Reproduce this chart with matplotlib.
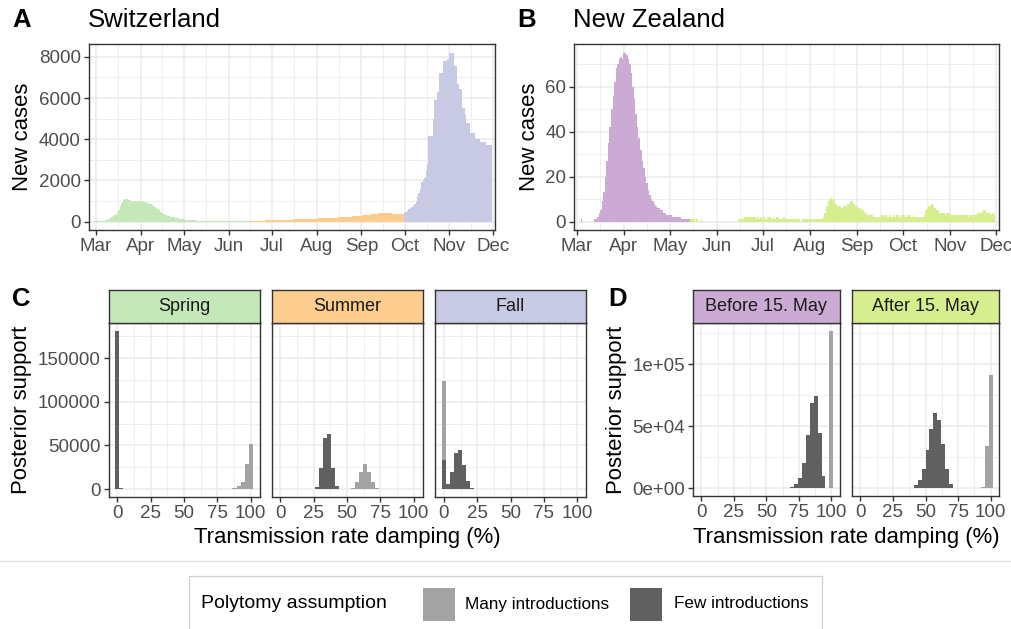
import numpy as np
import pandas as pd
import matplotlib
matplotlib.use("Agg")
import matplotlib.pyplot as plt
import matplotlib.dates as mdates
from matplotlib.patches import Rectangle
from matplotlib.lines import Line2D
from matplotlib.ticker import FixedLocator, FuncFormatter

plt.rcParams['font.family'] = ['Liberation Sans', 'DejaVu Sans']

# ---------------- DATA ----------------
ch_start = "2020-03-01"
ch_mar = [5,8,12,18,25, 35,50,70,100,130, 170,220,270,300,330, 400,550,750,900,1030,
          1100,1110,1090,1060,1030, 1010,990,980,970,980, 1000]
ch_apr = [1000,990,970,950,920, 900,870,840,800,760, 720,680,620,560,480, 420,370,340,310,290,
          260,240,220,200,185, 170,160,145,130,120]
ch_may = [110,100,95,90,80, 75,70,60,55,50, 45,42,40,38,35, 33,30,30,28,27,
          25,25,24,23,22, 22,21,20,20,20, 20]
ch_jun = [20,20,19,20,20, 21,20,22,22,23, 23,24,25,25,26, 28,30,32,34,36,
          38,40,42,45,48, 50,52,55,58,60]
ch_jul = [62,65,68,70,72, 75,78,80,83,86, 90,92,95,98,100, 102,104,106,108,110,
          112,115,118,120,122, 125,128,130,133,136, 140]
ch_aug = [145,150,152,155,158, 160,162,165,168,170, 175,180,185,190,195, 200,205,210,215,220,
          225,230,235,240,245, 250,255,260,270,280, 290]
ch_sep = [290,295,300,310,320, 330,340,350,360,370, 380,390,400,410,420, 430,440,440,430,420,
          410,400,390,380,380, 370,365,360,360,360]
ch_oct = [400,450,500,600,650, 700,800,850,1000,1200, 1400,1600,1900,2000,2100, 2500,2800,4150,4150,4150,
          5000,5900,5900,6300,7200, 7200,7200,7800,7800,7800, 7900]
ch_nov = [8200,8200,8200,8200,7550, 7550,6700,6450,6450,5530, 5530,5200,4770,4770,4770, 4320,4320,4320,4030,4030,
          4030,4030,3850,3850,3850, 3850,3740,3740,3740,3700]
ch_seasons = ["Spring", "Summer", "Fall"]
ch_season_ends = ["2020-06-14", "2020-09-30", "2020-12-31"]

nz_start = "2020-03-01"
nz_mar = [0,0,0,1,0, 0,0,0,0,0, 0,0,1,1,2, 4,5,9,13,20, 27,35,42,50,56, 62,68,70,72,73, 72]
nz_apr = [75,75,74,72,70, 66,60,55,48,42, 37,32,27,24,20, 17,14,12,10,9, 8,7,6,6,5, 5,4,4,3,3]
nz_may = [3,3,2,2,2, 2,2,2,1,1, 1,1,1,1,1, 1,1,0,1,0, 0,1,0,0,0, 0,0,0,0,0, 0]
nz_jun = [0,0,0,0,0, 0,0,0,0,0, 0,0,0,0,1, 1,1,1,2,2, 2,2,2,2,2, 2,1,2,1,2]
nz_jul = [1,2,1,2,2, 2,1,2,1,2, 2,1,1,1,2, 1,1,1,1,1, 1,1,1,1,1, 0,1,1,1,1, 1]
nz_aug = [1,1,1,1,1, 1,1,1,1,2, 4,7,9,10,11, 10,9,8,7,7, 7,6,7,7,7, 8,8,9,9,8, 7]
nz_sep = [7,6,6,5,5, 4,4,3,3,3, 3,2,2,2,2, 2,3,3,2,3, 2,3,2,2,3, 2,3,3,2,3]
nz_oct = [3,3,2,3,3, 2,2,3,2,2, 2,2,2,2,3, 5,6,7,7,8, 7,6,5,5,4, 4,4,4,3,4, 4]
nz_nov = [3,3,3,3,3, 3,3,3,3,3, 3,3,2,3,3, 3,3,3,4,4, 4,4,5,5,4, 4,4,3,4,3]
nz_periods = ["Before 15. May", "After 15. May"]
nz_period_ends = ["2020-05-14", "2020-12-31"]

month_labels = ["Mar", "Apr", "May", "Jun", "Jul", "Aug", "Sep", "Oct", "Nov", "Dec"]

# histogram bins (centres in % damping)
n_bins = 34
# Switzerland (C)
spring_few  = [181000,1500,400] + [0]*31
spring_many = [0]*28 + [300,1100,3000,7600,28800,51500]
summer_few  = [0]*8 + [500,2650,23900,58700,63600,24600,3800,400] + [0]*18
summer_many = [0]*17 + [300,1500,8000,20000,28400,20000,8000,1500,200] + [0]*8
fall_few    = [33300,6000,20000,41000,44700,27000,9500,1100] + [0]*26
fall_many   = [124000,800] + [0]*32
# New Zealand (D)
before_few  = [0]*22 + [300,800,3000,8000,20000,43000,69000,74700,44600,10000,0,0]
before_many = [0]*32 + [400,127000]
after_few   = [0]*12 + [200,500,2200,6200,15600,30400,47800,60500,55100,35800,15600,3500,500] + [0]*9
after_many  = [0]*31 + [800,33900,91700]

damp_ticks = [0, 25, 50, 75, 100]
ch_hist_ticks = [0, 50000, 100000, 150000]
nz_hist_ticks = [0, 50000, 100000]
legend_labels = ["Many introductions", "Few introductions"]

# ---------------- STYLE ----------------
col = {"Spring": "#C5E8B9", "Summer": "#FCCD8E", "Fall": "#C8C9E3",
       "Before 15. May": "#CBABD4", "After 15. May": "#D6EE8E"}
many_col, few_col = "#A3A3A3", "#606060"
grid_major, border = "#EBEBEB", "#333333"
tick_fs, title_fs, axis_fs, strip_fs = 13.5, 18.5, 15.9, 13

W, H = 1011, 629
fig = plt.figure(figsize=(W/100, H/100), dpi=100)

def px_axes(x0, y0, x1, y1):
    return fig.add_axes([x0/W, 1-y1/H, (x1-x0)/W, (y1-y0)/H])

def style(ax):
    ax.set_facecolor("white")
    for s in ax.spines.values():
        s.set_color(border); s.set_linewidth(1.0)
    ax.grid(which="major", color=grid_major, lw=1.15)
    ax.grid(which="minor", color=grid_major, lw=0.6)
    ax.set_axisbelow(True)
    ax.tick_params(which="major", length=3.6, width=1.0, color=border,
                   labelsize=tick_fs, labelcolor="#4D4D4D", pad=2)
    ax.tick_params(which="minor", length=0)

def ts_panel(ax, start, values, groups, ends, xlim_pad, yticks):
    dates = pd.date_range(start, periods=len(values), freq="D")
    x = mdates.date2num(dates)
    ends_num = mdates.date2num(pd.to_datetime(ends))
    colors = []
    for d in x:
        for g, e in zip(groups, ends_num):
            if d <= e:
                colors.append(col[g]); break
    ax.bar(x, values, width=1.0, color=colors, linewidth=0)
    mstarts = mdates.date2num(pd.date_range("2020-03-01", "2020-12-01", freq="MS"))
    ax.xaxis.set_major_locator(FixedLocator(mstarts))
    ax.set_xticklabels(month_labels)
    ax.xaxis.set_minor_locator(FixedLocator((mstarts[:-1] + mstarts[1:]) / 2))
    ax.set_xlim(mstarts[0] - xlim_pad[0], mstarts[-1] + xlim_pad[1])
    ymax = max(values)
    ax.set_ylim(-0.05*ymax, 1.05*ymax)
    ax.yaxis.set_major_locator(FixedLocator(yticks))
    step = yticks[1] - yticks[0]
    ax.yaxis.set_minor_locator(FixedLocator(np.arange(step/2, 1.05*ymax, step)))
    ax.set_yticklabels([str(t) for t in yticks])
    style(ax)
    ax.set_ylabel("New cases", fontsize=axis_fs, labelpad=4)

# Panel A
axA = px_axes(88.7, 44.3, 495, 230)
ch_vals = ch_mar + ch_apr + ch_may + ch_jun + ch_jul + ch_aug + ch_sep + ch_oct + ch_nov
ts_panel(axA, ch_start, ch_vals, ch_seasons, ch_season_ends, (5.06, 1.6), [0, 2000, 4000, 6000, 8000])
# Panel B
axB = px_axes(574, 44.3, 999.3, 230)
nz_vals = nz_mar + nz_apr + nz_may + nz_jun + nz_jul + nz_aug + nz_sep + nz_oct + nz_nov
ts_panel(axB, nz_start, nz_vals, nz_periods, nz_period_ends, (1.77, 2.16), [0, 20, 40, 60])

fig.text(12/W, 1-20/H, "A", fontsize=title_fs, fontweight="bold", va="center", ha="left")
fig.text(88/W, 1-20/H, "Switzerland", fontsize=title_fs, va="center", ha="left")
fig.text(517/W, 1-20/H, "B", fontsize=title_fs, fontweight="bold", va="center", ha="left")
fig.text(573/W, 1-20/H, "New Zealand", fontsize=title_fs, va="center", ha="left")

# ---------------- Histograms ----------------
centers = np.linspace(0, 100, n_bins)
bw = centers[1] - centers[0]

def hist_panels(xs, strip_top, panel_top, panel_bottom, names, manys, fews, yticks, fmt):
    ymax = max(max(max(m), max(f)) for m, f in zip(manys, fews))
    axes = []
    for i, ((x0, x1), name, m, f) in enumerate(zip(xs, names, manys, fews)):
        ax = px_axes(x0, panel_top, x1, panel_bottom)
        ax.bar(centers, m, width=bw, color=many_col, linewidth=0)
        ax.bar(centers, f, width=bw, color=few_col, linewidth=0)
        ax.set_xlim(-1.5 - 0.05*103, 101.5 + 0.05*103)
        ax.set_ylim(-0.05*ymax, 1.05*ymax)
        ax.xaxis.set_major_locator(FixedLocator(damp_ticks))
        ax.xaxis.set_minor_locator(FixedLocator([12.5, 37.5, 62.5, 87.5]))
        ax.yaxis.set_major_locator(FixedLocator(yticks))
        step = yticks[1] - yticks[0]
        ax.yaxis.set_minor_locator(FixedLocator(np.arange(step/2, 1.05*ymax, step)))
        style(ax)
        ax.set_xticklabels([str(t) for t in damp_ticks])
        if i == 0:
            ax.set_yticklabels([fmt(t) for t in yticks])
            ax.set_ylabel("Posterior support", fontsize=axis_fs, labelpad=4)
        else:
            ax.tick_params(axis="y", which="both", length=0, labelleft=False)
        # strip
        sax = px_axes(x0, strip_top, x1, panel_top)
        sax.set_facecolor(col[name])
        sax.set_xticks([]); sax.set_yticks([])
        for s in sax.spines.values():
            s.set_color(border); s.set_linewidth(1.0)
        sax.text(0.5, 0.5, name, transform=sax.transAxes, ha="center", va="center",
                 fontsize=strip_fs, color="#1A1A1A")
        axes.append(ax)
    return axes

cx = [(108.5, 259.5), (271.5, 422.5), (435, 586)]
axC = hist_panels(cx, 289.5, 323, 497, ch_seasons, [spring_many, summer_many, fall_many],
                  [spring_few, summer_few, fall_few], ch_hist_ticks, lambda v: f"{int(v)}")
dx = [(692.7, 840), (851.7, 999.3)]
axD = hist_panels(dx, 289.5, 323, 496, nz_periods, [before_many, after_many],
                  [before_few, after_few], nz_hist_ticks, lambda v: f"{v:.0e}")

fig.text((108.5+586)/2/W, 1-537/H, "Transmission rate damping (%)", fontsize=axis_fs, ha="center", va="center")
fig.text((692.7+999.3)/2/W, 1-537/H, "Transmission rate damping (%)", fontsize=axis_fs, ha="center", va="center")
fig.text(12/W, 1-299/H, "C", fontsize=title_fs, fontweight="bold", va="center", ha="left")
fig.text(608/W, 1-299/H, "D", fontsize=title_fs, fontweight="bold", va="center", ha="left")

# separator line
fig.add_artist(Line2D([0, 1], [1-560.5/H, 1-560.5/H], transform=fig.transFigure, color="#E3E3E3", lw=1.0))

# ---------------- Legend ----------------
fig.add_artist(Rectangle((189/W, 1-640/H), (822-189)/W, (640-576)/H, transform=fig.transFigure,
                         facecolor="white", edgecolor="#D0D0D0", lw=0.9))
fig.text(201/W, 1-604/H, "Polytomy assumption", fontsize=14, ha="left", va="center")
for (sx, tx), lab, c in zip([(422.5, 465), (630, 674)], legend_labels, [many_col, few_col]):
    fig.add_artist(Rectangle((sx/W, 1-621/H), 32/W, 33/H, transform=fig.transFigure,
                             facecolor=c, edgecolor="none"))
    fig.text(tx/W, 1-604/H, lab, fontsize=12.3, ha="left", va="center")

fig.savefig("out.png", dpi=100, facecolor="white")
